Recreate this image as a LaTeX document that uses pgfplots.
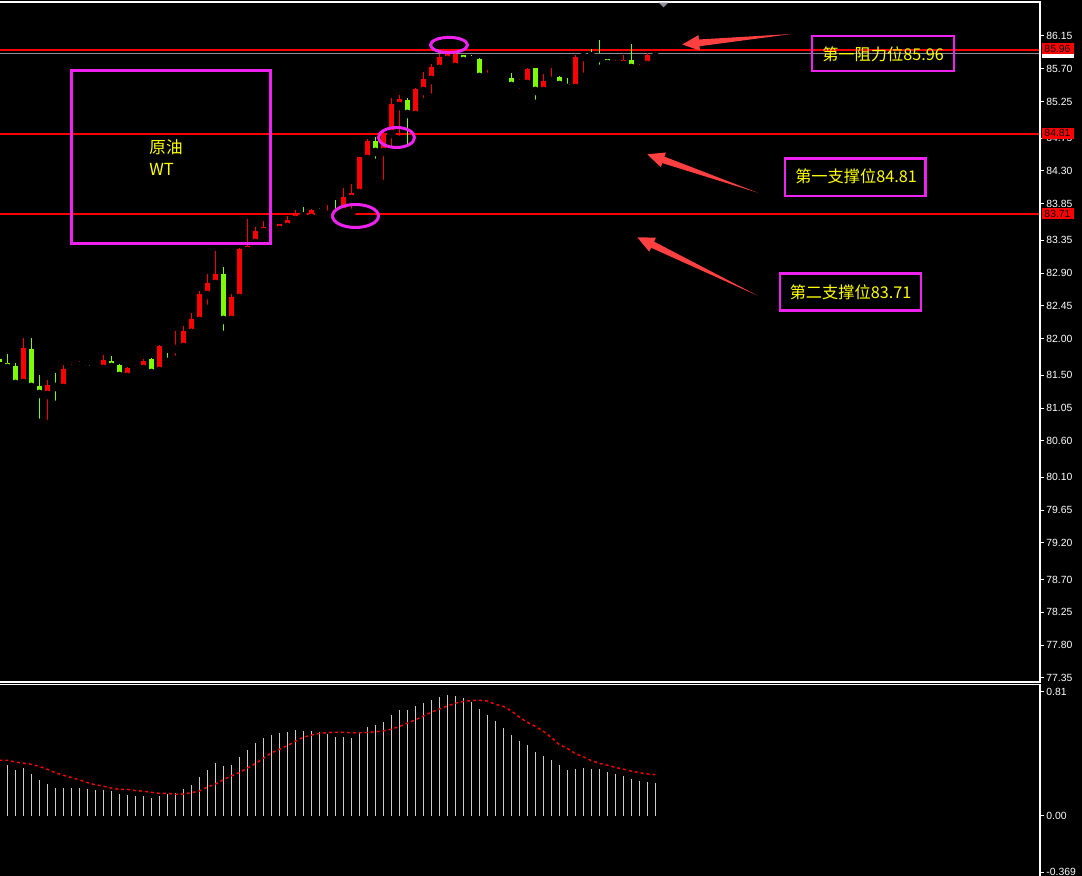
\documentclass[border=0pt]{standalone}
\usepackage{fontspec}
\setmainfont{Liberation Sans}
\newfontfamily\cjk{Noto Sans CJK SC}
\usepackage{pgfplots}
\usepackage{pgfplotstable}
\pgfplotsset{compat=1.18}
\usetikzlibrary{calc}
\definecolor{cred}{RGB}{255,0,0}
\definecolor{cgreen}{RGB}{124,252,0}
\definecolor{cmag}{RGB}{238,34,238}
\definecolor{cyel}{RGB}{255,255,0}
\definecolor{carrow}{RGB}{255,64,64}
\definecolor{chist}{RGB}{205,205,205}
\definecolor{cgrayline}{RGB}{140,140,150}
\newcommand{\ticfont}{\fontsize{5.2pt}{6pt}\selectfont}

% i high low bodytop bodybottom
\pgfplotstableread{
i hi lo bt bb
-1 81.750 81.654 81.722 81.681
0 81.791 81.585 81.668 81.599
1 81.668 81.366 81.626 81.380
3 82.010 81.229 81.859 81.339
4 81.503 80.845 81.352 81.243
6 81.530 81.092 81.352 81.339
10 81.640 81.572 81.640 81.585
11 81.613 81.572 81.592 81.578
13 81.763 81.599 81.695 81.613
14 81.654 81.476 81.640 81.489
18 81.736 81.489 81.722 81.530
20 81.914 81.681 81.887 81.866
27 82.983 82.051 82.888 82.257
33 83.518 83.463 83.498 83.484
37 83.806 83.641 83.717 83.676
39 83.792 83.724 83.779 83.724
41 83.902 83.696 83.765 83.724
46 84.766 84.409 84.711 84.560
50 85.300 84.587 85.273 85.081
57 85.890 85.780 85.890 85.807
58 85.890 85.698 85.828 85.814
59 85.848 85.561 85.835 85.588
61 85.643 85.547 85.615 85.588
62 85.629 85.533 85.602 85.574
63 85.643 85.437 85.574 85.465
66 85.711 85.218 85.711 85.396
69 85.602 85.437 85.588 85.478
70 85.574 85.396 85.492 85.437
73 85.972 85.766 85.883 85.869
74 86.095 85.698 85.890 85.848
75 85.835 85.739 85.835 85.766
78 86.040 85.657 85.821 85.711
}\greentab

\pgfplotstableread{
i hi lo bt bb
2 82.010 81.352 81.873 81.393
5 81.435 80.831 81.366 81.229
7 81.640 81.256 81.585 81.325
8 81.654 81.517 81.626 81.585
9 81.695 81.585 81.654 81.626
12 81.777 81.585 81.709 81.585
15 81.613 81.435 81.599 81.476
16 81.640 81.572 81.613 81.572
17 81.722 81.558 81.695 81.585
19 81.914 81.462 81.901 81.558
21 82.106 81.709 81.914 81.859
22 82.175 81.818 82.106 81.887
23 82.353 82.079 82.271 82.079
24 82.655 82.202 82.613 82.243
25 82.888 82.408 82.764 82.600
26 83.203 82.655 82.888 82.750
28 82.613 82.188 82.572 82.257
29 83.244 82.545 83.230 82.559
30 83.641 83.134 83.271 83.203
31 83.532 83.299 83.477 83.313
32 83.614 83.450 83.532 83.463
34 83.573 83.463 83.573 83.491
35 83.683 83.491 83.628 83.532
36 83.765 83.600 83.724 83.628
38 83.779 83.628 83.765 83.655
40 83.833 83.696 83.751 83.696
42 84.066 83.696 83.943 83.737
43 84.121 83.724 83.998 83.916
44 84.491 83.957 84.491 83.998
45 84.738 84.409 84.711 84.464
47 84.862 84.121 84.807 84.560
48 85.300 84.560 85.218 84.807
49 85.341 84.724 85.286 85.190
51 85.437 85.012 85.424 85.067
52 85.657 85.245 85.561 85.396
53 85.766 85.300 85.725 85.547
54 85.903 85.698 85.862 85.698
55 85.972 85.766 85.958 85.821
56 85.972 85.684 85.903 85.725
60 85.684 85.574 85.629 85.588
64 85.561 85.369 85.506 85.492
65 85.711 85.437 85.698 85.492
67 85.629 85.341 85.533 85.396
68 85.711 85.519 85.574 85.533
71 85.890 85.396 85.862 85.437
72 85.917 85.588 85.890 85.862
76 85.821 85.739 85.780 85.753
77 85.890 85.753 85.821 85.753
79 85.766 85.588 85.753 85.698
80 85.917 85.711 85.890 85.753
81 85.931 85.862 85.917 85.862
}\redtab

\pgfplotstableread{
i v
0 0.331
1 0.298
2 0.312
3 0.272
4 0.233
5 0.207
6 0.181
7 0.181
8 0.181
9 0.181
10 0.174
11 0.168
12 0.168
13 0.161
14 0.142
15 0.135
16 0.129
17 0.129
18 0.116
19 0.129
20 0.142
21 0.148
22 0.174
23 0.201
24 0.253
25 0.298
26 0.344
27 0.325
28 0.331
29 0.384
30 0.429
31 0.475
32 0.508
33 0.527
34 0.540
35 0.547
36 0.560
37 0.553
38 0.553
39 0.547
40 0.534
41 0.514
42 0.514
43 0.508
44 0.540
45 0.579
46 0.592
47 0.612
48 0.658
49 0.690
50 0.690
51 0.717
52 0.736
53 0.755
54 0.775
55 0.788
56 0.782
57 0.769
58 0.743
59 0.697
60 0.658
61 0.619
62 0.573
63 0.527
64 0.488
65 0.462
66 0.416
67 0.390
68 0.364
69 0.331
70 0.298
71 0.305
72 0.312
73 0.305
74 0.305
75 0.285
76 0.272
77 0.259
78 0.240
79 0.227
80 0.220
81 0.214
}\histtab

\pgfplotstableread{
i v
-1 0.362
0 0.362
1 0.351
2 0.343
3 0.336
4 0.322
5 0.303
6 0.281
7 0.264
8 0.250
9 0.234
10 0.216
11 0.202
12 0.193
13 0.180
14 0.172
15 0.172
16 0.164
17 0.160
18 0.153
19 0.146
20 0.146
21 0.140
22 0.141
23 0.150
24 0.161
25 0.187
26 0.206
27 0.234
28 0.260
29 0.281
30 0.310
31 0.340
32 0.375
33 0.410
34 0.433
35 0.458
36 0.486
37 0.512
38 0.526
39 0.537
40 0.543
41 0.545
42 0.545
43 0.542
44 0.541
45 0.544
46 0.548
47 0.554
48 0.565
49 0.582
50 0.604
51 0.626
52 0.651
53 0.676
54 0.697
55 0.716
56 0.734
57 0.746
58 0.752
59 0.754
60 0.749
61 0.728
62 0.714
63 0.685
64 0.644
65 0.610
66 0.584
67 0.551
68 0.511
69 0.464
70 0.440
71 0.405
72 0.385
73 0.360
74 0.342
75 0.330
76 0.315
77 0.304
78 0.291
79 0.281
80 0.273
81 0.268
}\sigtab

\newcommand{\taper}[3]{% tail, tip, name
  \coordinate (#3T) at #1;
  \coordinate (#3H) at #2;
  \coordinate (#3B) at ($(#3H)!8.5pt!(#3T)$);
  \fill[carrow] (#3T) -- ($(#3B)!1.7pt!90:(#3H)$) -- ($(#3B)!3.9pt!90:(#3H)$) -- (#3H)
     -- ($(#3B)!3.9pt!-90:(#3H)$) -- ($(#3B)!1.7pt!-90:(#3H)$) -- cycle;
}

\begin{document}
\begin{tikzpicture}
\useasboundingbox (0,0) rectangle (541pt,438pt);
\fill[black] (0,0) rectangle (541pt,438pt);

\begin{axis}[
  name=main, at={(0pt,97pt)}, anchor=south west,
  scale only axis, width=520pt, height=340pt,
  xmin=-0.9125, xmax=129.0875, ymin=77.2946, ymax=86.6161,
  axis line style={draw=none},
  xtick=\empty,
  ytick={86.15,85.70,85.25,84.75,84.30,83.85,83.35,82.90,82.45,82.00,81.50,81.05,80.60,80.10,79.65,79.20,78.70,78.25,77.80,77.35},
  yticklabels={86.15,85.70,85.25,84.75,84.30,83.85,83.35,82.90,82.45,82.00,81.50,81.05,80.60,80.10,79.65,79.20,78.70,78.25,77.80,77.35},
  ytick pos=right, yticklabel pos=right, tick align=outside,
  major tick length=2pt,
  tick style={draw=white, line width=0.5pt},
  yticklabel style={font=\ticfont, text=white, anchor=west, inner sep=0pt, xshift=1pt},
]
\draw[cred, line width=0.8pt] (axis cs:-2,85.96) -- (axis cs:131,85.96);
\draw[cgrayline, line width=0.7pt] (axis cs:-2,85.913) -- (axis cs:131,85.913);
\draw[cred, line width=0.8pt] (axis cs:-2,84.81) -- (axis cs:131,84.81);
\draw[cred, line width=0.8pt] (axis cs:-2,83.71) -- (axis cs:131,83.71);
% wicks
\addplot[only marks, mark=none, forget plot,
  error bars/.cd, y dir=plus, y explicit, error mark=none,
  error bar style={draw=cgreen, line width=0.7pt}]
  table[x=i, y=lo, y error expr=\thisrow{hi}-\thisrow{lo}] {\greentab};
\addplot[only marks, mark=none, forget plot,
  error bars/.cd, y dir=plus, y explicit, error mark=none,
  error bar style={draw=cred, line width=0.7pt}]
  table[x=i, y=lo, y error expr=\thisrow{hi}-\thisrow{lo}] {\redtab};
% bodies
\addplot[only marks, mark=none, forget plot,
  error bars/.cd, y dir=plus, y explicit, error mark=none,
  error bar style={draw=cgreen, line width=2.6pt}]
  table[x=i, y=bb, y error expr=\thisrow{bt}-\thisrow{bb}] {\greentab};
\addplot[only marks, mark=none, forget plot,
  error bars/.cd, y dir=plus, y explicit, error mark=none,
  error bar style={draw=cred, line width=2.6pt}]
  table[x=i, y=bb, y error expr=\thisrow{bt}-\thisrow{bb}] {\redtab};
\end{axis}

\begin{axis}[
  name=macd, at={(0pt,0pt)}, anchor=south west,
  scale only axis, width=520pt, height=95.75pt,
  xmin=-0.9125, xmax=129.0875, ymin=-0.3939, ymax=0.8570,
  axis line style={draw=none},
  xtick=\empty,
  ytick={0.81,0,-0.369},
  yticklabels={0.81,0.00,-0.369},
  ytick pos=right, yticklabel pos=right, tick align=outside,
  major tick length=2pt,
  tick style={draw=white, line width=0.5pt},
  yticklabel style={font=\ticfont, text=white, anchor=west, inner sep=0pt, xshift=1pt},
]
\addplot[ycomb, draw=chist, line width=0.6pt, mark=none] table[x=i, y=v] {\histtab};
\addplot[draw=cred, line width=0.7pt, dash pattern=on 1.5pt off 1.5pt, mark=none] table[x=i, y=v] {\sigtab};
\end{axis}

\begin{scope}[shift={(0pt,438pt)}, x=0.5pt, y=-0.5pt]
  % frames
  \draw[white, line width=0.6pt] (0,2) -- (1040,2) -- (1040,682) -- (0,682);
  \draw[white, line width=0.6pt] (0,684.5) -- (1040,684.5) -- (1040,876);
  \fill[cgrayline] (658.7,2.7) -- (668.3,2.7) -- (663.5,7.5) -- cycle;
  % price labels on the right
  \fill[white] (1041.5,53.3) rectangle (1073.5,58.5);
  \fill[cred] (1041.5,43.5) rectangle (1073.5,54);
  \node[font=\ticfont, text=black, inner sep=0pt] at (1057.5,48.9) {85.96};
  \fill[cred] (1041.5,127.8) rectangle (1073.5,139.5);
  \node[font=\ticfont, text=black, inner sep=0pt] at (1057.5,133.4) {84.81};
  \fill[cred] (1041.5,208.3) rectangle (1073.5,219.3);
  \node[font=\ticfont, text=black, inner sep=0pt] at (1057.5,213.8) {83.71};
  % big box
  \draw[cmag, line width=1.5pt] (71.5,70.5) rectangle (270.5,243.5);
  \node[font=\cjk\fontsize{8.3pt}{10pt}\selectfont, text=cyel, anchor=west, inner sep=0pt] at (149,147.5) {原油};
  \node[font=\cjk\fontsize{8.3pt}{10pt}\selectfont, text=cyel, anchor=west, inner sep=0pt] at (149,169.5) {WT};
  % ellipses
  \draw[cmag, line width=1.5pt] (449,45) ellipse [x radius=18.5, y radius=7.6];
  \draw[cmag, line width=1.5pt] (396.5,137.5) ellipse [x radius=18, y radius=10];
  \draw[cmag, line width=1.5pt] (355.5,216) ellipse [x radius=23, y radius=11.5];
  % label boxes
  \draw[cmag, line width=1.2pt] (812,36) rectangle (954,71);
  \node[font=\cjk\fontsize{8.1pt}{10pt}\selectfont, text=cyel, inner sep=0pt] at (883,54) {第一阻力位85.96};
  \draw[cmag, line width=1.2pt] (785.2,158.5) rectangle (925.5,196);
  \node[font=\cjk\fontsize{8.1pt}{10pt}\selectfont, text=cyel, inner sep=0pt] at (856,176.5) {第一支撑位84.81};
  \draw[cmag, line width=1.2pt] (780.2,273.5) rectangle (920.8,310.5);
  \node[font=\cjk\fontsize{8.1pt}{10pt}\selectfont, text=cyel, inner sep=0pt] at (850.5,292) {第二支撑位83.71};
  % arrows
  \taper{(791.7,34)}{(682.3,44.5)}{a}
  \taper{(757.7,192.7)}{(647.3,154.3)}{b}
  \taper{(757.7,295.7)}{(637.3,237.3)}{c}
\end{scope}
\end{tikzpicture}
\end{document}
